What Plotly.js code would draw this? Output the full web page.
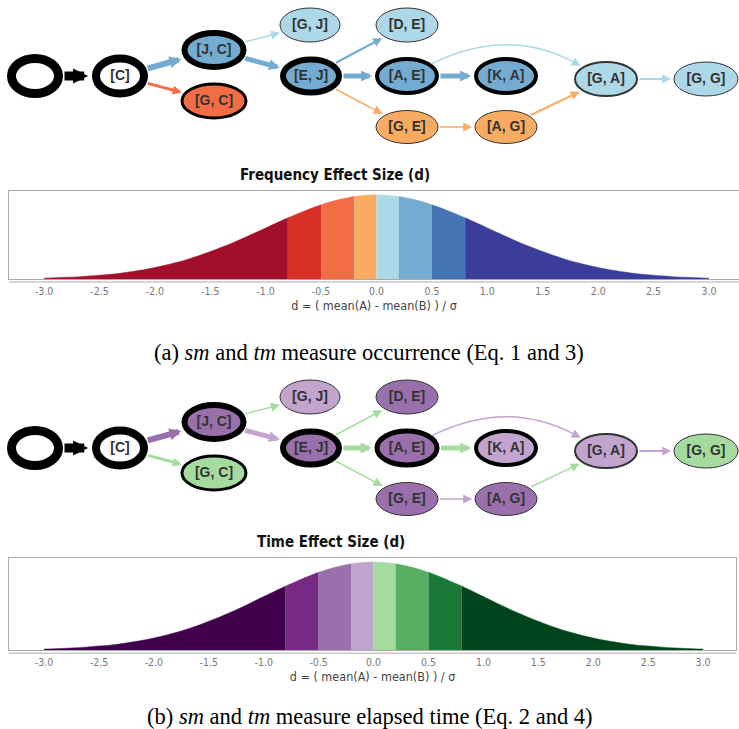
<!DOCTYPE html>
<html><head><meta charset="utf-8">
<script src="https://cdn.plot.ly/plotly-3.0.1.min.js"></script>
<style>html,body{margin:0;padding:0;background:#fff;} #chart{width:739px;height:729px;}</style>
</head><body><div id="chart"></div>
<script>
// ================= DATA =================
// Process graph: node labels and edges (from -> to)
const nodeLabels = ['', '[C]', '[J, C]', '[G, C]', '[G, J]', '[E, J]', '[D, E]', '[A, E]', '[K, A]', '[G, E]', '[A, G]', '[G, A]', '[G, G]'];
const edgeFrom = [0, 1, 1, 2, 2, 5, 5, 5, 7, 7, 9, 10, 11];
const edgeTo   = [1, 2, 3, 4, 5, 6, 7, 9, 8, 11, 10, 11, 12];

// Effect-size class per node / edge: -4..-1 negative bins, 1..4 positive bins, 0 = neutral
const freqNodeClass = [0, 0, 2, -2, 1, 2, 1, 2, 2, -1, -1, 1, 1];
const freqEdgeClass = [0, 2, -2, 1, 2, 2, 2, -1, 2, 1, -1, -1, 1];
const timeNodeClass = [0, 0, -2, 1, -1, -2, -2, -2, -1, -2, -2, -1, 1];
const timeEdgeClass = [0, -2, 1, 1, -1, 1, 1, 1, 1, -1, -1, 1, -1];

// Effect-size bins (d) and the bell curve
const binEdges = [-3.0, -0.8, -0.5, -0.2, 0.0, 0.2, 0.5, 0.8, 3.0];
const dValues = [-3.0,-2.9,-2.8,-2.7,-2.6,-2.5,-2.4,-2.3,-2.2,-2.1,-2.0,-1.9,-1.8,-1.7,-1.6,-1.5,-1.4,-1.3,-1.2,-1.1,-1.0,-0.9,-0.8,-0.7,-0.6,-0.5,-0.4,-0.3,-0.2,-0.1,0.0,0.1,0.2,0.3,0.4,0.5,0.6,0.7,0.8,0.9,1.0,1.1,1.2,1.3,1.4,1.5,1.6,1.7,1.8,1.9,2.0,2.1,2.2,2.3,2.4,2.5,2.6,2.7,2.8,2.9,3.0];
const density = [0.004,0.006,0.008,0.010,0.014,0.018,0.022,0.028,0.036,0.044,0.054,0.066,0.079,0.094,0.111,0.130,0.150,0.171,0.194,0.218,0.242,0.266,0.290,0.312,0.333,0.352,0.368,0.381,0.391,0.397,0.399,0.397,0.391,0.381,0.368,0.352,0.333,0.312,0.290,0.266,0.242,0.218,0.194,0.171,0.150,0.130,0.111,0.094,0.079,0.066,0.054,0.044,0.036,0.028,0.022,0.018,0.014,0.010,0.008,0.006,0.004];
const tickVals = [-3.0,-2.5,-2.0,-1.5,-1.0,-0.5,0.0,0.5,1.0,1.5,2.0,2.5,3.0];
const tickText = ['-3.0','-2.5','-2.0','-1.5','-1.0','-0.5','0.0','0.5','1.0','1.5','2.0','2.5','3.0'];

const freqTitle = 'Frequency Effect Size (d)';
const timeTitle = 'Time Effect Size (d)';
const axisTitle = 'd = ( mean(A) - mean(B) ) / σ';
const captionA = '(a) <i>sm</i> and <i>tm</i> measure occurrence (Eq. 1 and 3)';
const captionB = '(b) <i>sm</i> and <i>tm</i> measure elapsed time (Eq. 2 and 4)';

// ================= STYLE / LAYOUT =================
const freqPalette = ['#a30f2b', '#d63027', '#f26d45', '#f9ab62', '#acd8e8', '#74abd1', '#4474b3', '#3a3d99'];
const timePalette = ['#40004b', '#762a83', '#9970ab', '#c2a5cf', '#a6dba0', '#5aae61', '#1b7837', '#00441b'];

const nodeX  = [35, 120, 214, 214, 310, 311, 407, 407, 506, 407, 506, 606, 706];
const nodeY  = [76, 76, 50, 101, 25, 76, 25, 76, 76, 127, 127, 79, 79];
const nodeRx = [23.5, 24, 29.5, 32, 30, 28, 31, 30, 30, 31, 31, 31, 32];
const nodeRy = [17.5, 17.5, 17, 17, 17, 16.5, 17, 17, 17, 16.5, 16.5, 17, 17];
const freqNodeBorder = [9, 8, 6, 3, 1, 6, 1, 4, 4, 1, 1, 2, 1];
const timeNodeBorder = [9, 8, 6, 3, 1, 6, 1, 5, 4, 1, 1, 2, 1];
const freqEdgeWidth = [9, 6, 3, 1.5, 5, 2, 5, 1.5, 5, 1.5, 1.5, 2, 2];
const timeEdgeWidth = [9, 6, 3, 1.5, 5, 1.5, 5, 1.5, 5, 1.5, 1.5, 1.5, 2];
const edgeBend = [0, 0, 0, 0, 0, 0, 0, 0, 0, -51, 0, 0, 0];

function classColor(pal, c, neutral) {
  if (c === 0) return neutral;
  return pal[c < 0 ? c + 4 : c + 3];
}

const shapes = [];
const annotations = [];
const traces = [];

function radius(i, ux, uy, bw) {
  const a = nodeRx[i], b = nodeRy[i];
  return 1 / Math.sqrt((ux / a) ** 2 + (uy / b) ** 2) + bw / 2;
}

function headSize(w) {
  const L = w <= 2 ? 9 : 6 + w;
  return Math.max(0.3, Math.min(2, L / (5 * w)));
}

function buildGraph(oy, pal, nodeClass, edgeClass, nodeBorder, edgeWidth) {
  for (let i = 0; i < nodeLabels.length; i++) {
    const c = nodeClass[i];
    const bw = nodeBorder[i];
    shapes.push({
      type: 'circle', xref: 'x', yref: 'y', layer: 'below',
      x0: nodeX[i] - nodeRx[i], x1: nodeX[i] + nodeRx[i],
      y0: nodeY[i] + oy - nodeRy[i], y1: nodeY[i] + oy + nodeRy[i],
      fillcolor: classColor(pal, c, '#ffffff'),
      line: { color: bw >= 3 ? '#000000' : '#333333', width: bw }
    });
  }
  for (let k = 0; k < edgeFrom.length; k++) {
    const i = edgeFrom[k], j = edgeTo[k];
    const col = classColor(pal, edgeClass[k], '#000000');
    const w = edgeWidth[k];
    const s = headSize(w);
    const over = 1.3 * s * w;
    if (edgeBend[k] === 0) {
      let dx = nodeX[j] - nodeX[i], dy = nodeY[j] - nodeY[i];
      const L = Math.hypot(dx, dy); const ux = dx / L, uy = dy / L;
      const ri = radius(i, ux, uy, nodeBorder[i]);
      const rj = radius(j, ux, uy, nodeBorder[j]);
      annotations.push({
        xref: 'x', yref: 'y', axref: 'x', ayref: 'y',
        x: nodeX[j] - ux * rj, y: nodeY[j] + oy - uy * rj,
        ax: nodeX[i] + ux * ri, ay: nodeY[i] + oy + uy * ri,
        text: '', showarrow: true, arrowhead: 2, arrowsize: s, arrowwidth: w,
        arrowcolor: col, standoff: over
      });
    } else {
      const cx = (nodeX[i] + nodeX[j]) / 2, cy = (nodeY[i] + nodeY[j]) / 2 + edgeBend[k];
      let d1x = cx - nodeX[i], d1y = cy - nodeY[i]; let L1 = Math.hypot(d1x, d1y); d1x /= L1; d1y /= L1;
      let d2x = nodeX[j] - cx, d2y = nodeY[j] - cy; let L2 = Math.hypot(d2x, d2y); d2x /= L2; d2y /= L2;
      const ri = radius(i, d1x, d1y, nodeBorder[i]);
      const rj = radius(j, d2x, d2y, nodeBorder[j]);
      const sx = nodeX[i] + d1x * ri, sy = nodeY[i] + d1y * ri;
      const ex = nodeX[j] - d2x * rj, ey = nodeY[j] - d2y * rj;
      const bx = ex - d2x * (over + 8), by = ey - d2y * (over + 8);
      shapes.push({
        type: 'path', xref: 'x', yref: 'y', layer: 'below',
        path: `M${sx},${sy + oy} Q${cx},${cy + oy} ${bx},${by + oy}`,
        line: { color: col, width: w }
      });
      annotations.push({
        xref: 'x', yref: 'y', axref: 'x', ayref: 'y',
        x: ex, y: ey + oy, ax: bx, ay: by + oy,
        text: '', showarrow: true, arrowhead: 2, arrowsize: s, arrowwidth: w,
        arrowcolor: col, standoff: over
      });
    }
  }
  traces.push({
    type: 'scatter', mode: 'text', xaxis: 'x', yaxis: 'y',
    x: nodeX, y: nodeY.map(v => v + oy),
    text: nodeLabels.map(t => t ? '<b>' + t + '</b>' : ''),
    textposition: 'middle center',
    textfont: { family: 'Liberation Sans, Arial, sans-serif', size: 14, color: '#333333' },
    hoverinfo: 'skip', cliponaxis: false
  });
}

buildGraph(0, freqPalette, freqNodeClass, freqEdgeClass, freqNodeBorder, freqEdgeWidth);
buildGraph(372, timePalette, timeNodeClass, timeEdgeClass, timeNodeBorder, timeEdgeWidth);

function buildBell(xa, ya, pal) {
  for (let k = 0; k < binEdges.length - 1; k++) {
    const lo = binEdges[k], hi = binEdges[k + 1];
    const xs = [], ys = [];
    for (let n = 0; n < dValues.length; n++) {
      if (dValues[n] >= lo - 1e-9 && dValues[n] <= hi + 1e-9) { xs.push(dValues[n]); ys.push(density[n]); }
    }
    traces.push({
      type: 'scatter', mode: 'lines', xaxis: xa, yaxis: ya,
      x: xs, y: ys, fill: 'tozeroy', fillcolor: pal[k],
      line: { width: 0.5, color: pal[k], shape: 'spline' }, hoverinfo: 'skip'
    });
  }
}
buildBell('x2', 'y2', freqPalette);
buildBell('x3', 'y3', timePalette);

const tickFont = { family: 'DejaVu Sans Condensed, Liberation Sans Narrow, Arial, sans-serif', size: 10.5, color: '#777777' };
function bellX(domain, range) {
  return {
    domain: domain, range: range, showgrid: false, zeroline: false,
    showline: true, mirror: true, linecolor: '#a8a8a8', linewidth: 1,
    tickmode: 'array', tickvals: tickVals, ticktext: tickText, ticks: '',
    tickfont: tickFont, ticklabelstandoff: 2,
    title: { text: axisTitle, font: { family: 'DejaVu Sans Condensed, Arial, sans-serif', size: 12.5, color: '#444444' }, standoff: 5 },
    fixedrange: true
  };
}
function bellY(domain, anchor) {
  return {
    domain: domain, range: [0, 0.417], anchor: anchor, showgrid: false, zeroline: false,
    showline: true, mirror: true, linecolor: '#a8a8a8', linewidth: 1,
    showticklabels: false, ticks: '', fixedrange: true
  };
}

const xa2 = bellX([0.0122, 1.0], [-3.316, 3.271]); xa2.anchor = 'y2';
const xa3 = bellX([0.0122, 0.996], [-3.319, 3.300]); xa3.anchor = 'y3';

shapes.push({ type: 'line', xref: 'x2 domain', yref: 'y2 domain', x0: 0, x1: 1, y0: -0.035, y1: -0.035, line: { color: '#c8c8c8', width: 1.5 } });
shapes.push({ type: 'line', xref: 'x3 domain', yref: 'y3 domain', x0: 0, x1: 1, y0: -0.035, y1: -0.035, line: { color: '#c8c8c8', width: 1.5 } });

const titleFont = { family: 'DejaVu Sans Condensed, Lato, sans-serif', size: 15, color: '#111111' };
annotations.push({ xref: 'paper', yref: 'paper', x: 335 / 739, y: 1 - 175 / 729, text: '<b>' + freqTitle + '</b>', showarrow: false, font: titleFont, xanchor: 'center', yanchor: 'middle' });
annotations.push({ xref: 'paper', yref: 'paper', x: 331 / 739, y: 1 - 542 / 729, text: '<b>' + timeTitle + '</b>', showarrow: false, font: titleFont, xanchor: 'center', yanchor: 'middle' });
const capFont = { family: 'Liberation Serif, Times New Roman, serif', size: 22.5, color: '#000000' };
annotations.push({ xref: 'paper', yref: 'paper', x: 369 / 739, y: 1 - 352 / 729, text: captionA, showarrow: false, font: capFont, xanchor: 'center', yanchor: 'middle' });
annotations.push({ xref: 'paper', yref: 'paper', x: 370 / 739, y: 1 - 716 / 729, text: captionB, showarrow: false, font: capFont, xanchor: 'center', yanchor: 'middle' });

const layout = {
  width: 739, height: 729, margin: { l: 0, r: 0, t: 0, b: 0 },
  paper_bgcolor: '#ffffff', plot_bgcolor: 'rgba(0,0,0,0)', showlegend: false,
  xaxis: { domain: [0, 1], range: [0, 739], visible: false, fixedrange: true },
  yaxis: { domain: [0, 1], range: [729, 0], visible: false, fixedrange: true },
  xaxis2: xa2, yaxis2: bellY([1 - 279 / 729, 1 - 191 / 729], 'x2'),
  xaxis3: xa3, yaxis3: bellY([1 - 650 / 729, 1 - 558 / 729], 'x3'),
  shapes: shapes, annotations: annotations
};

Plotly.newPlot('chart', traces, layout, { staticPlot: true, displayModeBar: false });
</script>
</body></html>
